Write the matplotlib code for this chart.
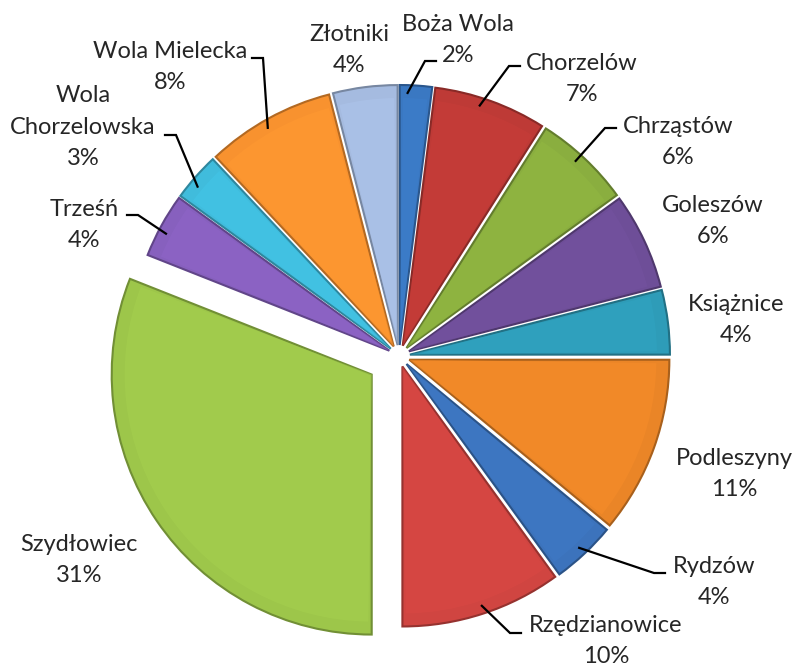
import matplotlib.pyplot as plt
import matplotlib.colors as mcolors
from matplotlib.patches import Wedge
import numpy as np

plt.rcParams['font.family'] = ['Lato', 'DejaVu Sans']

towns = ['Boża Wola', 'Chorzelów', 'Chrząstów', 'Goleszów', 'Książnice',
         'Podleszyny', 'Rydzów', 'Rzędzianowice', 'Szydłowiec', 'Trześń',
         'Wola\nChorzelowska', 'Wola Mielecka', 'Złotniki']
shares = [2, 7, 6, 6, 4, 11, 4, 10, 31, 4, 3, 8, 4]
slice_colors = ['#3A78C2', '#BE3A36', '#8AAE3F', '#6E4E98', '#2E9CB8',
                '#EA8527', '#3C73BC', '#D04541', '#9DC64A', '#8760BE',
                '#40BCDC', '#F8922F', '#A5BBE0']

W, H = 796, 668
# label layout in pixel coords: text block centre, leader end (or None),
# and where along the slice the leader starts (fraction of its angle)
label_pos = [(458, 40), (582, 79), (678, 142), (713, 221), (736, 320),
             (734, 474), (714, 582), (606, 641), (79, 560), (84, 225),
             (83, 127), (170, 67), (349, 50)]
leader_end = [(436, 61), (520, 66), (616, 128), None, None,
              None, (665, 573), (521, 633), None, (127, 215),
              (165, 135), (252, 58), None]
anchor_frac = [0.25, 0.42, 0.45, 0.5, 0.5, 0.5, 0.5, 0.49, 0.5, 0.42,
               0.37, 0.46, 0.5]

fig = plt.figure(figsize=(W / 100, H / 100), dpi=100)
ax = fig.add_axes([0, 0, 1, 1])

R = 260
cx, cy = 399, H - 356
explode = [11] * len(shares)
explode[towns.index('Szydłowiec')] = 33

wedges, _ = ax.pie(shares, radius=R, center=(cx, cy), startangle=90,
                   counterclock=False, colors=slice_colors, explode=explode,
                   frame=True)
ax.set_xlim(0, W)
ax.set_ylim(0, H)
ax.set_aspect('equal')
ax.axis('off')

for w, c in zip(wedges, slice_colors):
    rgb = np.array(mcolors.to_rgb(c))
    w.set_edgecolor(rgb * 0.72)
    w.set_linewidth(1.5)
    # lighter inner face to mimic the bevel
    face = Wedge(w.center, w.r * 0.95, w.theta1 + 0.8, w.theta2 - 0.8,
                 facecolor=np.minimum(rgb * 1.05, 1), edgecolor='none', alpha=0.6)
    ax.add_patch(face)

for w, name, pct, (px, py), end, f in zip(wedges, towns, shares, label_pos,
                                           leader_end, anchor_frac):
    ax.text(px, H - py, f'{name}\n{pct}%', ha='center', va='center',
            fontsize=17, color='#262626', linespacing=1.6)
    if end is not None:
        ang = np.deg2rad(w.theta2 - f * (w.theta2 - w.theta1))
        sx = w.center[0] + w.r * 0.97 * np.cos(ang)
        sy = w.center[1] + w.r * 0.97 * np.sin(ang)
        ex, ey = end[0], H - end[1]
        side = 1 if ex > sx else -1
        ax.plot([sx, ex - side * 11, ex], [sy, ey, ey], color='black', lw=1.6,
                solid_joinstyle='miter')

fig.savefig('out.png', dpi=100, facecolor='white')
